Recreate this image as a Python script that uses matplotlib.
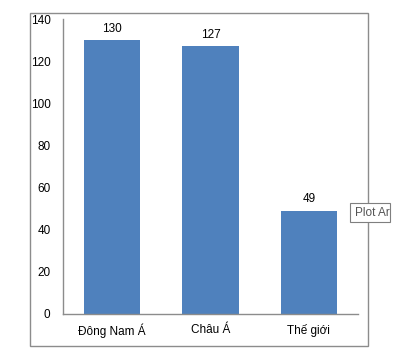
import matplotlib.pyplot as plt
from matplotlib.patches import Rectangle

categories = ['Đông Nam Á', 'Châu Á', 'Thế giới']
values = [130, 127, 49]
yticks = [0, 20, 40, 60, 80, 100, 120, 140]

plt.rcParams['font.family'] = ['Liberation Sans', 'DejaVu Sans']

fig = plt.figure(figsize=(4.0, 3.58), dpi=100)
W, H = 400, 358

# outer chart frame
fig.patches.append(Rectangle((30 / W, 1 - 346 / H), 338 / W, 333 / H,
                             transform=fig.transFigure, fill=False,
                             edgecolor='#8c8c8c', linewidth=1.0))

ax = fig.add_axes([63 / W, 1 - 314 / H, 295 / W, 295 / H])
x = range(len(categories))
bars = ax.bar(x, values, width=0.57, color='#4f81bd')
for b, v in zip(bars, values):
    ax.annotate(str(v), (b.get_x() + b.get_width() / 2, v),
                xytext=(0, 4), textcoords='offset points',
                ha='center', va='bottom', fontsize=8.5)

ax.set_xlim(-0.5, len(categories) - 0.5)
ax.set_ylim(0, 140)
ax.set_yticks(yticks)
ax.set_xticks(list(x))
ax.set_xticklabels(categories)
ax.tick_params(axis='both', length=0, labelsize=8.5, colors='black')
ax.tick_params(axis='y', pad=9)
ax.tick_params(axis='x', pad=7)
for s in ['top', 'right']:
    ax.spines[s].set_visible(False)
for s in ['left', 'bottom']:
    ax.spines[s].set_color('#8c8c8c')
    ax.spines[s].set_linewidth(1.0)

# tooltip box (cut off at the right in the reference)
fig.patches.append(Rectangle((350 / W, 1 - 222 / H), 40 / W, 19 / H,
                             transform=fig.transFigure, facecolor='white',
                             edgecolor='#7f7f7f', linewidth=0.8))
fig.text(355 / W, 1 - 212.5 / H, 'Plot Ar', fontsize=8.5,
         color='#555555', va='center', ha='left')

fig.savefig('out.png', dpi=100)
